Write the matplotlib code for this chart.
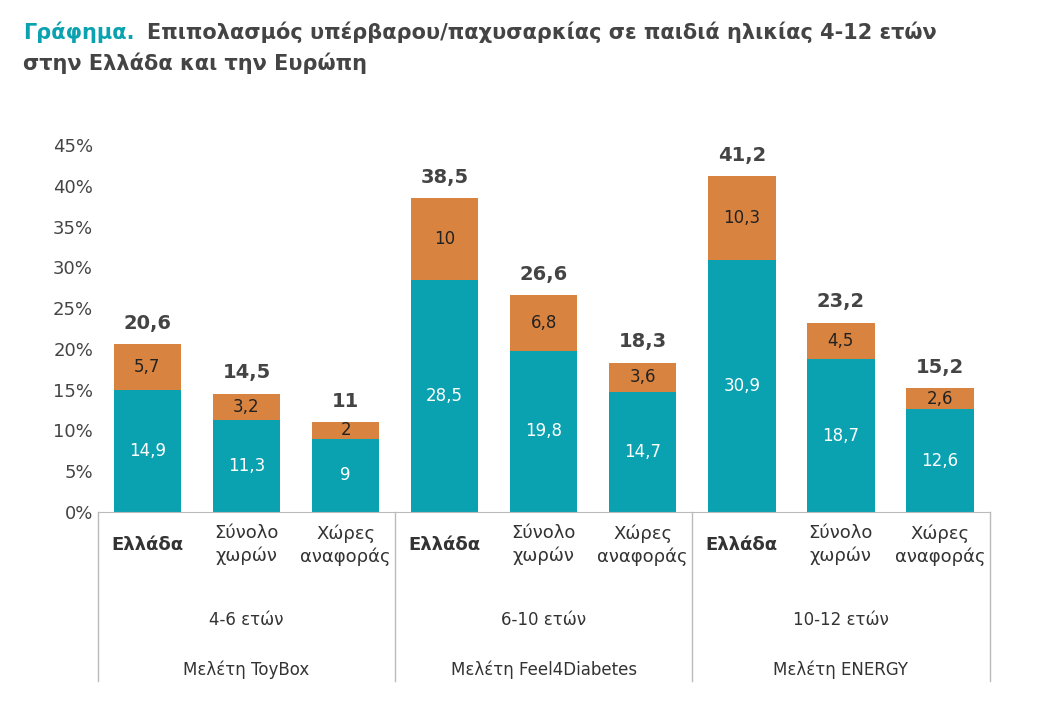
import matplotlib.pyplot as plt

cats = ["Ελλάδα", "Σύνολο\nχωρών", "Χώρες\nαναφοράς"] * 3
ages = ["4-6 ετών", "6-10 ετών", "10-12 ετών"]
studies = ["Μελέτη ToyBox", "Μελέτη Feel4Diabetes", "Μελέτη ENERGY"]
obese = [14.9, 11.3, 9, 28.5, 19.8, 14.7, 30.9, 18.7, 12.6]
over = [5.7, 3.2, 2, 10, 6.8, 3.6, 10.3, 4.5, 2.6]
totals = [20.6, 14.5, 11, 38.5, 26.6, 18.3, 41.2, 23.2, 15.2]

def fmt(v):
    return ("%g" % v).replace(".", ",")

teal = "#0aa2b1"
orange = "#d8833f"
grey = "#444444"

plt.rcParams['font.family'] = ['DejaVu Sans']
fig = plt.figure(figsize=(10.64, 7.22), dpi=100)
ax = fig.add_axes([0.092, 0.291, 0.838, 0.508])
x = range(len(cats))
ax.bar(x, obese, width=0.68, color=teal)
ax.bar(x, over, bottom=obese, width=0.68, color=orange)
for i in x:
    ax.text(i, obese[i] / 2, fmt(obese[i]), ha='center', va='center', color='white', fontsize=12)
    ax.text(i, obese[i] + over[i] / 2, fmt(over[i]), ha='center', va='center', color='#222222', fontsize=12)
    ax.text(i, totals[i] + 1.4, fmt(totals[i]), ha='center', va='bottom', color=grey, fontsize=14, fontweight='bold')

ax.set_xlim(-0.5, 8.5)
ax.set_ylim(0, 45)
ax.set_yticks(range(0, 46, 5))
ax.set_yticklabels([f"{v}%" for v in range(0, 46, 5)], fontsize=13, color=grey)
ax.set_xticks([])
for s in ['top', 'right', 'left']:
    ax.spines[s].set_visible(False)
ax.spines['bottom'].set_color('#bbbbbb')
ax.tick_params(axis='y', length=0)

tr = ax.get_xaxis_transform()
for i, c in enumerate(cats):
    bold = i % 3 == 0
    ax.text(i, -0.09, c, transform=tr, ha='center', va='center', fontsize=13,
            color='#333333', fontweight='bold' if bold else 'normal', linespacing=1.3)
for g in range(3):
    ax.text(3 * g + 1, -0.294, ages[g], transform=tr, ha='center', va='center', fontsize=12, color='#333333')
    ax.text(3 * g + 1, -0.43, studies[g], transform=tr, ha='center', va='center', fontsize=12, color='#333333')
for xv in [-0.5, 2.5, 5.5, 8.5]:
    ax.plot([xv, xv], [0, -0.46], transform=tr, color='#bbbbbb', lw=1, clip_on=False)

fig.text(0.022, 0.955, "Γράφημα.", color=teal, fontsize=15, fontweight='bold', va='center')
fig.text(0.138, 0.955, "Επιπολασμός υπέρβαρου/παχυσαρκίας σε παιδιά ηλικίας 4-12 ετών",
         color=grey, fontsize=15, fontweight='bold', va='center')
fig.text(0.022, 0.912, "στην Ελλάδα και την Ευρώπη", color=grey, fontsize=15, fontweight='bold', va='center')

fig.savefig("out.png", dpi=100)
